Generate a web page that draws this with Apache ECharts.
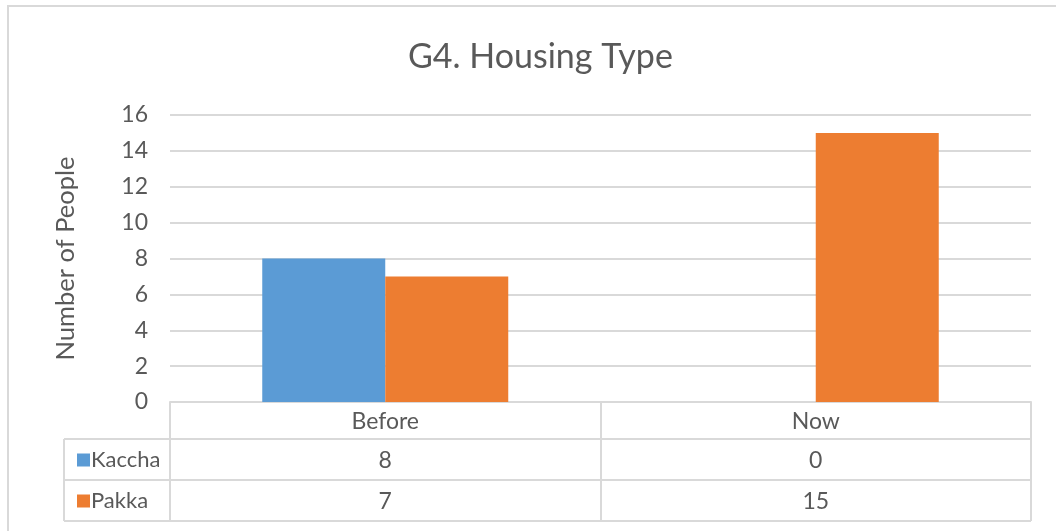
<!DOCTYPE html>
<html lang="en">
<head>
    <meta charset="UTF-8">
    <title>G4. Housing Type</title>
    <style>
        html, body { margin: 0; padding: 0; background: #fff; }
        #chart { width: 1056px; height: 531px; }
    </style>
</head>
<body>
    <div id="chart"></div>
</body>
<script src="https://cdn.jsdelivr.net/npm/echarts@6/dist/echarts.min.js"></script>
<script>
    // data
    let periods = ['Before', 'Now'];
    let kaccha = [8, 0];
    let pakka = [7, 15];
    let seriesNames = ['Kaccha', 'Pakka'];

    const FONT = 'Lato, sans-serif';
    const TXT = '#595959';
    const LINE = '#D9D9D9';
    const BLUE = '#5B9BD5';
    const ORANGE = '#ED7D31';
    const SMALL = 23;

    // plot box
    let gLeft = 170, gRight = 1031, gTop = 115, gBottom = 402;
    let rowH = [37, 41, 41];
    let colLeft = 64;

    let dom = document.getElementById('chart');
    let myChart = echarts.init(dom, null, {renderer: 'canvas'});

    function tableAxis(offset, tickLen, formatter) {
        return {
            type: 'category',
            data: periods,
            position: 'bottom',
            offset: offset,
            axisLine: {show: true, lineStyle: {color: LINE, width: 2}},
            axisTick: {show: true, interval: 0, length: tickLen, lineStyle: {color: LINE, width: 2}},
            axisLabel: {
                interval: 0, margin: Math.round(tickLen / 2) - 11,
                color: TXT, fontFamily: FONT, fontSize: SMALL,
                formatter: formatter
            }
        };
    }

    let y1 = gBottom + rowH[0], y2 = y1 + rowH[1], y3 = y2 + rowH[2];
    let tableLines = [
        [colLeft, y1, gLeft, y1],
        [colLeft, y2, gLeft, y2],
        [colLeft, y3, gRight, y3],
        [colLeft, y1, colLeft, y3]
    ].map(function (p) {
        return {
            type: 'line', silent: true,
            shape: {x1: p[0], y1: p[1], x2: p[2], y2: p[3]},
            style: {stroke: LINE, lineWidth: 2}
        };
    });

    function rowLegend(name, top) {
        return {
            data: [name], orient: 'vertical', left: 72, top: top,
            itemWidth: 13, itemHeight: 13, itemGap: 0, icon: 'rect',
            textStyle: {color: TXT, fontFamily: FONT, fontSize: 22, padding: [0, 0, 0, -4]}
        };
    }

    let option = {
        backgroundColor: '#fff',
        animation: false,
        title: {
            text: 'G4. Housing Type',
            left: 403, top: 35,
            textStyle: {color: TXT, fontFamily: FONT, fontSize: 34, fontWeight: 'normal'}
        },
        legend: [
            rowLegend(seriesNames[0], y1 + 5),
            rowLegend(seriesNames[1], y2 + 5)
        ],
        grid: {left: gLeft, right: 1056 - gRight, top: gTop, bottom: 531 - gBottom, containLabel: false},
        xAxis: [
            tableAxis(0, rowH[0], null),
            tableAxis(rowH[0], rowH[1], function (v, i) { return String(kaccha[i]); }),
            tableAxis(rowH[0] + rowH[1], rowH[2], function (v, i) { return String(pakka[i]); })
        ],
        yAxis: {
            type: 'value', min: 0, max: 16, interval: 2,
            name: 'Number of People', nameLocation: 'middle', nameGap: 91, nameRotate: 90,
            nameTextStyle: {color: TXT, fontFamily: FONT, fontSize: 25.5},
            axisLine: {show: false}, axisTick: {show: false},
            axisLabel: {color: TXT, fontFamily: FONT, fontSize: SMALL, margin: 22},
            splitLine: {lineStyle: {color: LINE, width: 2}}
        },
        series: [
            {
                name: seriesNames[0], type: 'bar', data: kaccha,
                barWidth: 123, barGap: '0%',
                itemStyle: {color: BLUE}
            },
            {
                name: seriesNames[1], type: 'bar', data: pakka,
                barWidth: 123, barGap: '0%',
                itemStyle: {color: ORANGE}
            }
        ],
        graphic: [
            {
                type: 'rect', silent: true,
                shape: {x: 8, y: 6, width: 1100, height: 600},
                style: {fill: 'none', stroke: LINE, lineWidth: 2}
            }
        ].concat(tableLines)
    };

    myChart.setOption(option);
</script>
</html>
